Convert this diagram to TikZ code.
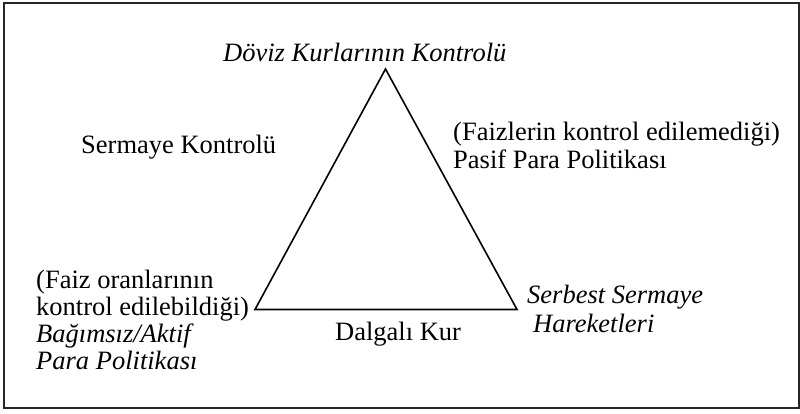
\documentclass[tikz,border=0pt]{standalone}
\usepackage{fontspec}
\setmainfont{Liberation Serif}
\begin{document}
\begin{tikzpicture}[x=1pt,y=-1pt,
  lbl/.style={inner sep=0pt,anchor=base west,font=\fontsize{26.5}{28}\selectfont},
  itl/.style={lbl,font=\fontsize{26.5}{28}\selectfont\itshape},
  tri/.style={line width=1.6pt,line join=miter},
  frame/.style={line width=2pt,draw=black!85}]
\useasboundingbox (0,0) rectangle (800,413);
\draw[frame] (4,3) rectangle (798.5,407.5);
\coordinate (A) at (385.5,69);
\coordinate (B) at (255,309.5);
\coordinate (C) at (517,309.5);
\draw[tri] (A) -- (B) -- (C) -- cycle;
\node[itl] (top) at (223,61.5) {Döviz Kurlarının Kontrolü};
\node[lbl] (sk) at (81,153) {Sermaye Kontrolü};
\node[lbl] (r1) at (453,140) {(Faizlerin kontrol edilemediği)};
\node[lbl] (r2) at (453,168) {Pasif Para Politikası};
\node[lbl] (l1) at (36,288) {(Faiz oranlarının};
\node[lbl] (l2) at (36,315) {kontrol edilebildiği)};
\node[itl] (l3) at (36,342) {Bağımsız/Aktif};
\node[itl] (l4) at (36,369) {Para Politikası};
\node[lbl] (dk) at (335,340) {Dalgalı Kur};
\node[itl] (s1) at (527,303) {Serbest Sermaye};
\node[itl] (s2) at (533,332) {Hareketleri};
\end{tikzpicture}
\end{document}
